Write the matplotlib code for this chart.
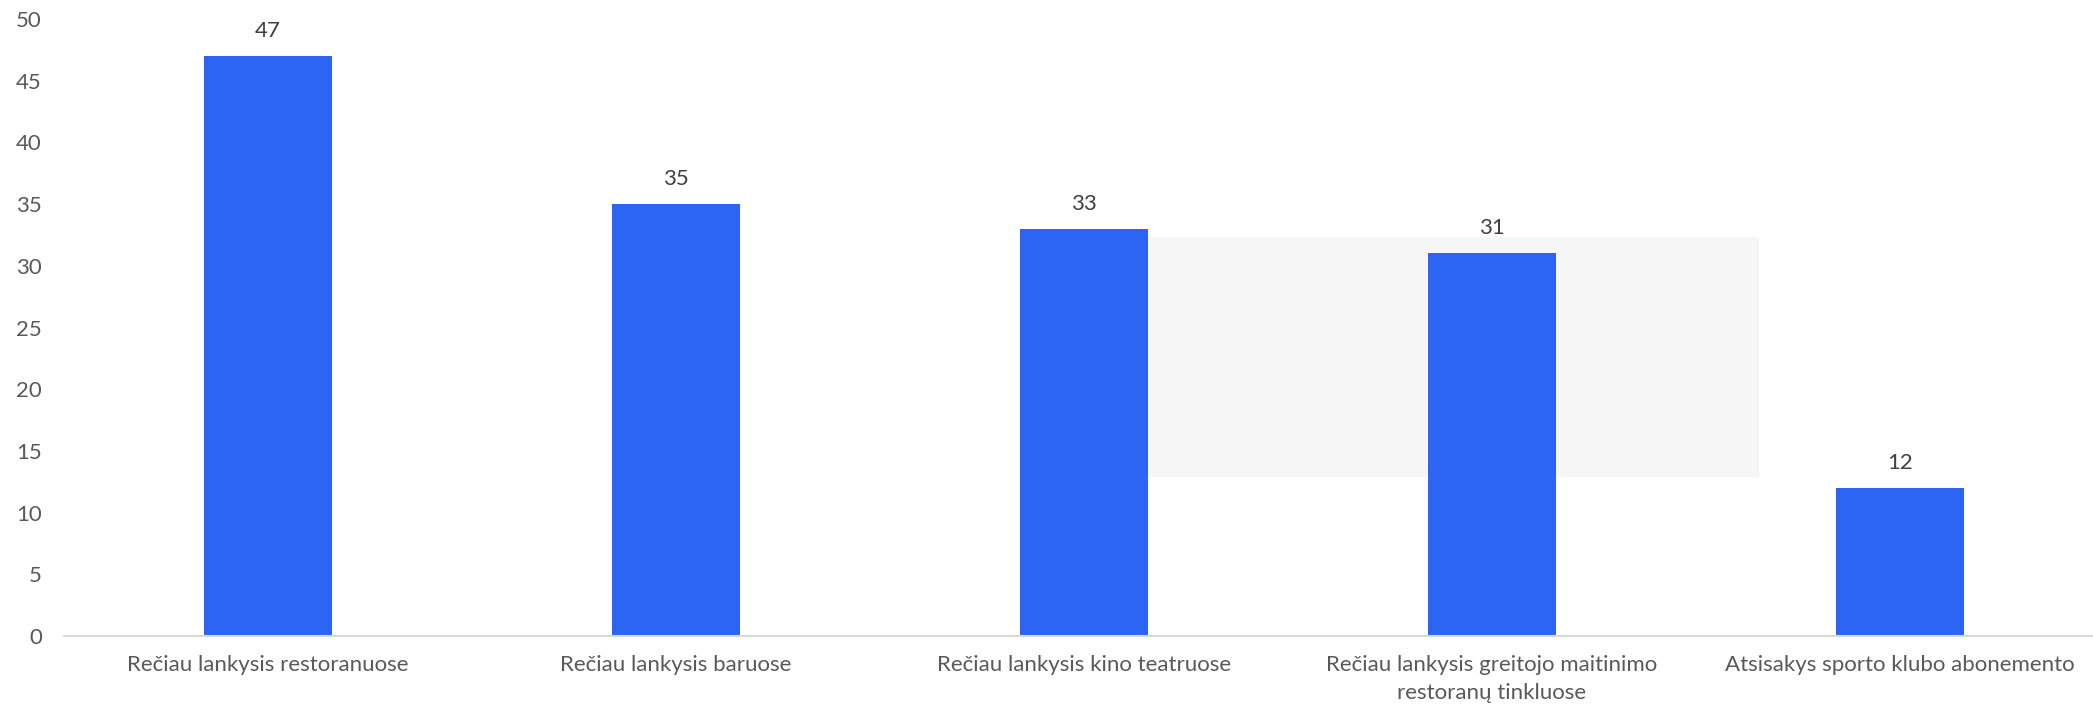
import matplotlib
matplotlib.use("Agg")
from matplotlib import pyplot as plt
from matplotlib.patches import Rectangle

# Duomenys
kategorijos = [
    "Rečiau lankysis restoranuose",
    "Rečiau lankysis baruose",
    "Rečiau lankysis kino teatruose",
    "Rečiau lankysis greitojo maitinimo\nrestoranų tinkluose",
    "Atsisakys sporto klubo abonemento",
]
reiksmes = [47, 35, 33, 31, 12]
y_ticks = [0, 5, 10, 15, 20, 25, 30, 35, 40, 45, 50]

plt.rcParams['font.family'] = ['Lato', 'DejaVu Sans']
fs = 16

fig = plt.figure(figsize=(20.93, 7.09), dpi=100)
ax = fig.add_axes([64 / 2093, 73 / 709, 2040 / 2093, 617 / 709])

x = range(len(kategorijos))

# sviesiai pilkas fonas tarp 3 ir 4 stulpelio
ax.add_patch(Rectangle((2.157, 12.9), 1.497, 19.4, facecolor='#f6f6f6',
                       edgecolor='none', zorder=1))

stulpeliai = ax.bar(x, reiksmes, width=0.314, color='#2c64f4', zorder=2)

for i, v in enumerate(reiksmes):
    ax.annotate(str(v), (i, v), xytext=(0, 18), textcoords='offset points',
                ha='center', va='center', fontsize=fs, color='#404040')

ax.set_xlim(-0.5, 4.5)
ax.set_ylim(0, 50)
ax.set_yticks(y_ticks)
ax.set_xticks(list(x))
ax.set_xticklabels(kategorijos, fontsize=fs, color='#595959', linespacing=1.5)
ax.tick_params(axis='y', length=0, pad=16, labelsize=fs, labelcolor='#595959')
ax.tick_params(axis='x', length=0, pad=14)

for s in ['top', 'right', 'left']:
    ax.spines[s].set_visible(False)
ax.spines['bottom'].set_color('#d9d9d9')
ax.spines['bottom'].set_linewidth(1.5)

plt.savefig('out.png', dpi=100)
